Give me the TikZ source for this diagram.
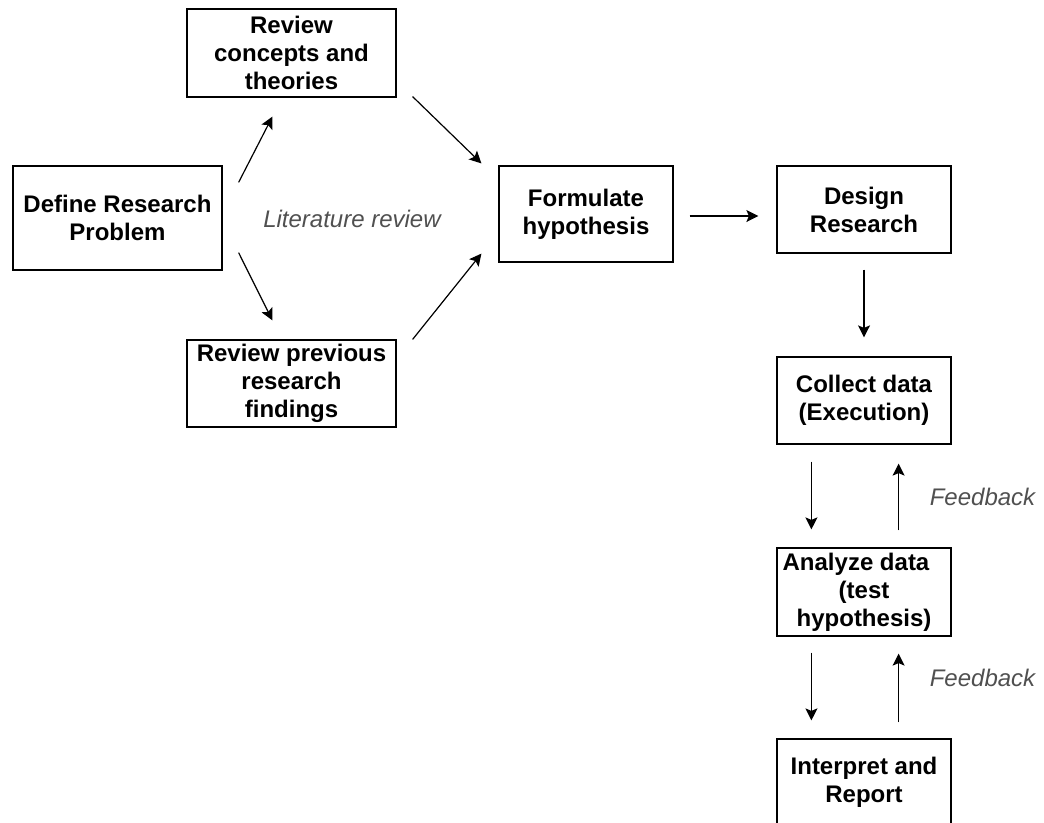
\documentclass[tikz,border=0pt]{standalone}
\usepackage{fontspec}
\setmainfont{Liberation Sans}
\usetikzlibrary{arrows.meta,calc}
\definecolor{notegray}{RGB}{80,80,80}
\begin{document}
\begin{tikzpicture}[x=1pt,y=-1pt,
  stepbox/.style={draw,line width=1.2pt,inner sep=0pt,align=center,
    font=\fontsize{24}{28}\selectfont\bfseries},
  note/.style={inner sep=0pt,text=notegray,font=\fontsize{24}{28}\selectfont\itshape},
  arr/.style={line width=1.2pt,-{Stealth[length=12pt,width=12pt,inset=2.5pt]}}]
\useasboundingbox (0,0) rectangle (1044,822);

% process boxes
\node[stepbox,minimum width=209pt,minimum height=104pt] (def) at (117.5,218) {Define Research\\Problem};
\node[stepbox,minimum width=209pt,minimum height=88pt] (rc) at (291.5,53) {Review\\concepts and\\theories};
\node[stepbox,minimum width=209pt,minimum height=87pt] (rp) at (291.5,383.5) {Review previous\\research\\findings};
\node[stepbox,minimum width=174pt,minimum height=96pt] (form) at (586,214) {Formulate\\hypothesis};
\node[stepbox,minimum width=174pt,minimum height=87pt] (design) at (864,209.5) {Design\\Research};
\node[stepbox,minimum width=174pt,minimum height=87pt] (collect) at (864,400.5) {Collect data\\(Execution)};
\node[stepbox,minimum width=174pt,minimum height=88pt] (analyze) at (864,592) {Analyze data\hspace*{16pt}\\(test\\hypothesis)};
\node[stepbox,minimum width=174pt,minimum height=87pt] (interp) at (864,782.5) {Interpret and\\Report};

% labels
\node[note] (lit) at (352,219) {Literature review};
\node[note] (fb1) at (982.5,497) {Feedback};
\node[note] (fb2) at (982.5,678) {Feedback};

% literature review branches
\draw[arr] ([shift={(16,17)}]def.north east) -- ([shift={(86,19)}]rc.south west);
\draw[arr] ([shift={(16,-18)}]def.south east) -- ([shift={(86,-19)}]rp.north west);
\draw[arr] ([shift={(16,-1)}]rc.south east) -- ([shift={(-17,-2)}]form.north west);
\draw[arr] ([shift={(16,0)}]rp.north east) -- ([shift={(-17,-9)}]form.south west);

% main flow
\draw[arr] ($(form.east)+(16,2)$) -- ($(form.east -| design.west)+(-18,2)$);
\draw[arr] ([shift={(0,16)}]design.south) -- ([shift={(0,-19)}]collect.north);
\draw[arr] ([shift={(35,17)}]collect.south west) -- ([shift={(35,-18)}]analyze.north west);
\draw[arr] ([shift={(-53,-17)}]analyze.north east) -- ([shift={(-53,19)}]collect.south east);
\draw[arr] ([shift={(35,16)}]analyze.south west) -- ([shift={(35,-18)}]interp.north west);
\draw[arr] ([shift={(-53,-16)}]interp.north east) -- ([shift={(-53,17)}]analyze.south east);
\end{tikzpicture}
\end{document}
